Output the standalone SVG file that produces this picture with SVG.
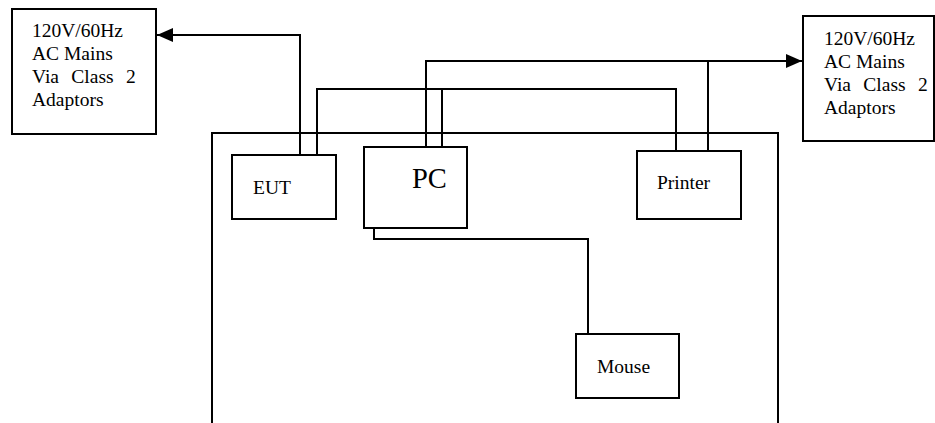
<svg xmlns="http://www.w3.org/2000/svg" width="935" height="423" viewBox="0 0 935 423">
<style>
.box{fill:#fff;stroke:#000;stroke-width:2}
.ln{fill:none;stroke:#000;stroke-width:2}
text{font-family:"Liberation Serif","Times New Roman",serif;font-size:19.5px;fill:#000}
.pc{font-size:28.5px}
.ws{word-spacing:7.5px}
</style>
<defs>
<marker id="arr" markerWidth="16" markerHeight="14" refX="16" refY="7" orient="auto" markerUnits="userSpaceOnUse">
<path d="M0,0 L16,7 L0,14 Z" fill="#000"/>
</marker>
</defs>
<rect width="935" height="423" fill="#fff"/>
<g id="bench"><path class="ln" d="M212,423 V133 H778 V423"/></g>
<g id="mains-left">
<rect class="box" x="12" y="9" width="144" height="125"/>
<text x="32" y="37">120V/60Hz</text>
<text x="32" y="60">AC Mains</text>
<text x="32" y="83" class="ws">Via Class 2</text>
<text x="32" y="106">Adaptors</text>
</g>
<g id="mains-right">
<rect class="box" x="803" y="16" width="131" height="125"/>
<text x="824" y="45">120V/60Hz</text>
<text x="824" y="68">AC Mains</text>
<text x="824" y="91" class="ws">Via Class 2</text>
<text x="824" y="114">Adaptors</text>
</g>
<g id="eut"><rect class="box" x="232" y="155" width="104" height="64"/><text x="253" y="194">EUT</text></g>
<g id="pc"><rect class="box" x="364" y="147" width="103" height="81"/><text x="412" y="188" class="pc">PC</text></g>
<g id="printer"><rect class="box" x="637" y="151" width="104" height="68"/><text x="657" y="189">Printer</text></g>
<g id="mouse"><rect class="box" x="576" y="334" width="103" height="64"/><text x="597" y="373">Mouse</text></g>
<g id="connectors">
<path class="ln" d="M300,155 V35 H157" marker-end="url(#arr)"/>
<path class="ln" d="M317,155 V89 H676 V151"/>
<path class="ln" d="M442,147 V89"/>
<path class="ln" d="M426,147 V61 H802" marker-end="url(#arr)"/>
<path class="ln" d="M708,151 V61"/>
<path class="ln" d="M374,228 V239 H588 V334"/>
</g>
</svg>
